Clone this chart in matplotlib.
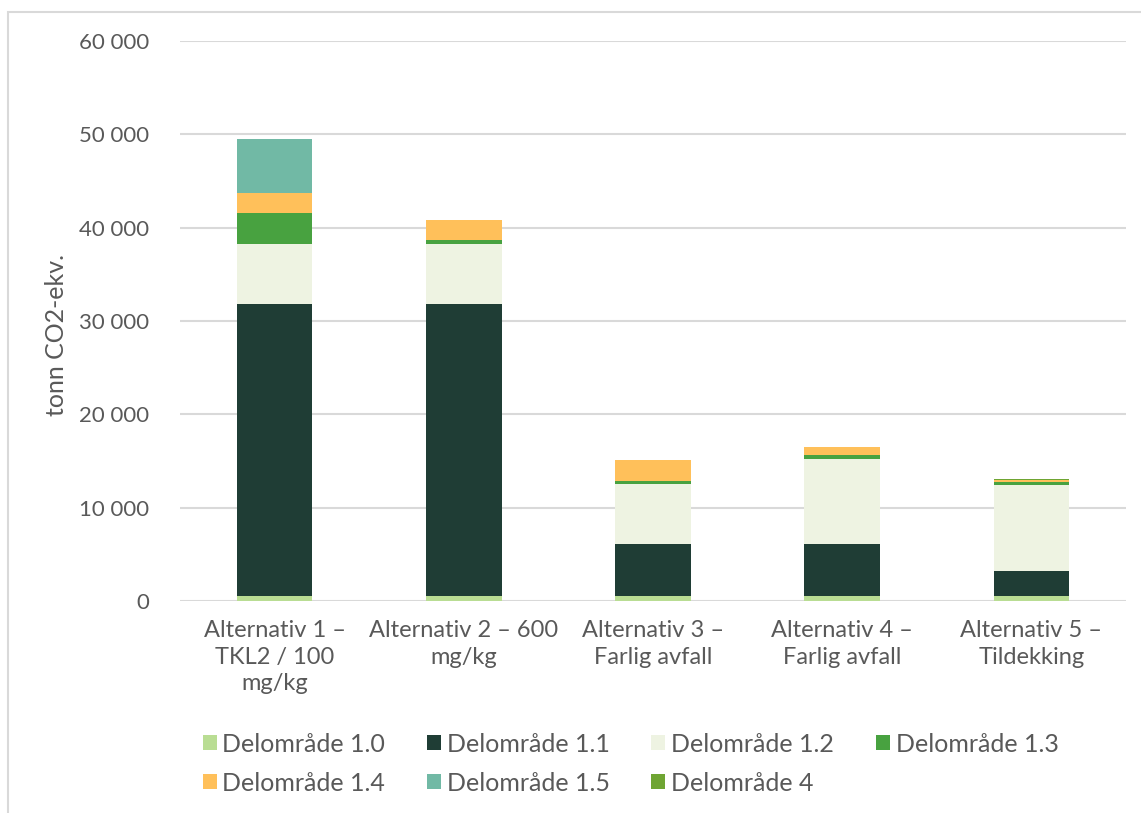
import numpy as np
import matplotlib
matplotlib.use("Agg")
import matplotlib.pyplot as plt
from matplotlib.patches import Rectangle

plt.rcParams['font.family'] = ['Lato', 'DejaVu Sans']

kategorier = ["Alternativ 1 –\nTKL2 / 100\nmg/kg", "Alternativ 2 – 600\nmg/kg",
              "Alternativ 3 –\nFarlig avfall", "Alternativ 4 –\nFarlig avfall",
              "Alternativ 5 –\nTildekking"]

serier = ["Delområde 1.0", "Delområde 1.1", "Delområde 1.2", "Delområde 1.3",
          "Delområde 1.4", "Delområde 1.5", "Delområde 4"]
farger = ["#B9DD93", "#1F3D35", "#EEF3E2", "#48A240", "#FFC05A", "#71B9A5", "#6FA533"]

# tonn CO2-ekv. per delområde
d10 = [500, 500, 500, 500, 500]
d11 = [31300, 31300, 5600, 5600, 2750]
d12 = [6500, 6500, 6400, 9150, 9150]
d13 = [3300, 400, 400, 350, 300]
d14 = [2150, 2100, 2200, 850, 300]
d15 = [5700, 0, 0, 0, 0]
d4 = [60, 60, 60, 60, 60]
verdier = [d10, d11, d12, d13, d14, d15, d4]

fig = plt.figure(figsize=(11.41, 8.13), dpi=100)
ax = fig.add_axes([180/1141, (813-601)/813, (1126-180)/1141, 560/813])

x = np.arange(len(kategorier))
bunn = np.zeros(len(kategorier))
handles = []
for navn, farge, v in zip(serier, farger, verdier):
    b = ax.bar(x, v, 0.4, bottom=bunn, color=farge, label=navn, zorder=3)
    handles.append(b)
    bunn += np.array(v)

ax.set_xlim(-0.5, len(kategorier) - 0.5)
ax.set_ylim(0, 60000)
yt = np.arange(0, 60001, 10000)
ax.set_yticks(yt)
ax.set_yticklabels([f"{int(t):,}".replace(",", " ") for t in yt])
ax.set_xticks(x)
ax.set_xticklabels(kategorier, linespacing=1.3)
ax.yaxis.grid(True, color="#D9D9D9", linewidth=1.5, zorder=0)
ax.tick_params(axis="both", length=0, colors="#595959")
ax.tick_params(axis="y", labelsize=16, pad=22)
ax.tick_params(axis="x", labelsize=17, pad=14)
for s in ax.spines.values():
    s.set_visible(False)
fig.text(57/1141, 1 - 335/813, "tonn CO2-ekv.", rotation=90, ha="center", va="center",
         fontsize=18, color="#595959")

# legend filled row by row (matplotlib fills columns first)
orden = [0, 4, 1, 5, 2, 6, 3]
leg = fig.legend([handles[i] for i in orden], [serier[i] for i in orden],
                 loc="upper left", bbox_to_anchor=(180/1141, 1 - 710/813), ncol=4,
                 frameon=False, fontsize=18, handlelength=0.56, handleheight=0.56,
                 handletextpad=0.24, columnspacing=1.66, labelspacing=0.64)
for t in leg.get_texts():
    t.set_color("#595959")

fig.patches.append(Rectangle((8/1141, -0.01), 1.1, 1 - 12/813 + 0.01,
                             transform=fig.transFigure, fill=False,
                             edgecolor="#D9D9D9", linewidth=1.5))

fig.savefig("out.png", dpi=100)
